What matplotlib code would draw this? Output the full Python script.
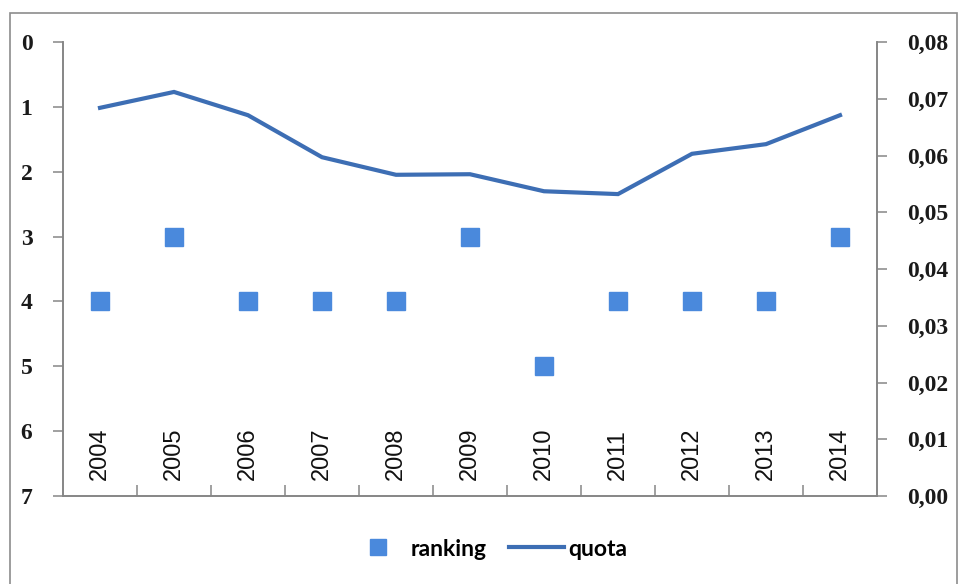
import matplotlib
matplotlib.use("Agg")
import matplotlib.pyplot as plt
from matplotlib.patches import Rectangle
from matplotlib.lines import Line2D
from matplotlib.ticker import FuncFormatter, MultipleLocator, FixedLocator

years = ["2004", "2005", "2006", "2007", "2008", "2009", "2010", "2011", "2012", "2013", "2014"]
ranking = [4, 3, 4, 4, 4, 3, 5, 4, 4, 4, 3]
quota = [0.0684, 0.0712, 0.0671, 0.0597, 0.0566, 0.0567, 0.0537, 0.0532, 0.0603, 0.0620, 0.0671]

W, H = 959, 584
fig = plt.figure(figsize=(W / 100, H / 100), dpi=100)
fig.patch.set_facecolor("white")

# outer chart border
fig.patches.append(Rectangle((10 / W, -0.05), 947 / W, 1 - 13 / H + 0.05,
                             transform=fig.transFigure, fill=False,
                             edgecolor="#8c8c8c", linewidth=1.2))

left, right, top, bottom = 63, 877, 42, 496
ax = fig.add_axes([left / W, 1 - bottom / H, (right - left) / W, (bottom - top) / H])
ax2 = ax.twinx()

x = list(range(len(years)))
sq_color = "#4A89DC"
line_color = "#3D6EB4"
spine_color = "#868686"

ax.plot(x, ranking, linestyle="none", marker="s", markersize=12.5,
        color=sq_color, zorder=3)
ax.set_ylim(7, 0)
ax.set_xlim(-0.5, len(years) - 0.5)
ax.yaxis.set_major_locator(MultipleLocator(1))

ax2.plot(x, quota, color=line_color, linewidth=3.0, solid_joinstyle="miter", zorder=2)
ax2.set_ylim(0, 0.08)
ax2.yaxis.set_major_locator(MultipleLocator(0.01))
ax2.yaxis.set_major_formatter(FuncFormatter(lambda v, p: f"{v:.2f}".replace(".", ",")))

num_font = dict(family="Liberation Serif", size=17, weight="bold")

for a in (ax, ax2):
    a.spines["top"].set_visible(False)
    for s in ("left", "right", "bottom"):
        a.spines[s].set_color(spine_color)
        a.spines[s].set_linewidth(1.2)

ax.tick_params(axis="y", direction="out", length=7, width=1.1, color=spine_color, pad=15)
ax2.tick_params(axis="y", direction="out", length=7, width=1.1, color=spine_color, pad=15)
for lab in ax.get_yticklabels() + ax2.get_yticklabels():
    lab.set_fontfamily(num_font["family"])
    lab.set_fontsize(num_font["size"])
    lab.set_fontweight(num_font["weight"])
    lab.set_color("#1a1a1a")

# x axis: no labels on axis, boundary ticks pointing inward
ax.xaxis.set_major_locator(FixedLocator(x))
ax.tick_params(axis="x", which="major", length=0, labelbottom=False)
ax.xaxis.set_minor_locator(FixedLocator([i + 0.5 for i in x[:-1]]))
ax.tick_params(axis="x", which="minor", direction="in", length=8, width=1.1, color=spine_color)

for i, yr in zip(x, years):
    ax.text(i, 6.75, yr, rotation=90, ha="center", va="bottom",
            fontsize=17, family="Liberation Sans", color="#111111", zorder=4)

handles = [
    Line2D([], [], linestyle="none", marker="s", markersize=11, color=sq_color),
    Line2D([], [], color=line_color, linewidth=3.0),
]
fig.legend(handles, ["ranking", "quota"], loc="center", ncol=2,
           bbox_to_anchor=(0.51, 1 - 549 / H), frameon=False,
           prop=dict(family="Lato", size=16.5, weight="bold"),
           handlelength=2.4, handletextpad=0.2, columnspacing=1.0)

fig.savefig("out.png", dpi=100, facecolor="white")
